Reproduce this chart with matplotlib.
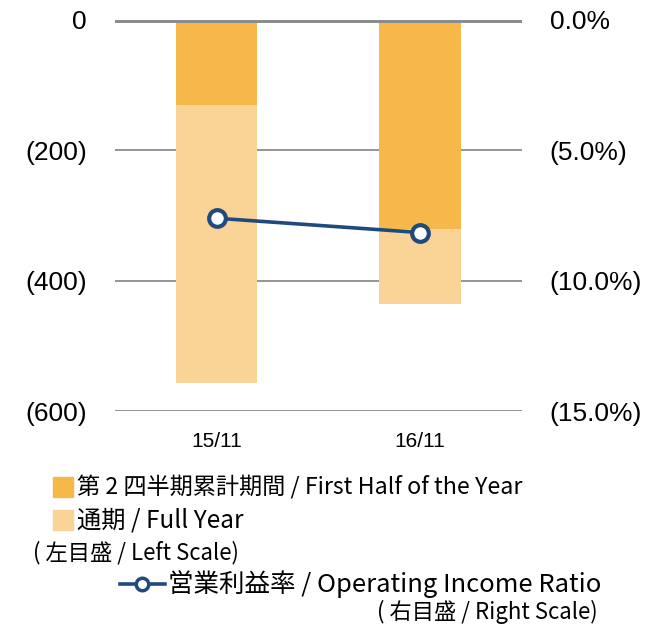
import matplotlib.pyplot as plt
from matplotlib.patches import Rectangle
from matplotlib.lines import Line2D
from matplotlib.ticker import FuncFormatter

# data (millions, negative = loss) and operating income ratio (%)
categories = ['15/11', '16/11']
first_half = [-130, -321]
full_year = [-557, -435]
income_ratio = [-7.6, -8.15]

orange = '#F7B84B'
light_orange = '#F9D496'
navy = '#1F4A7E'
grey = '#8C8C8C'

num_font = ['Liberation Sans', 'DejaVu Sans']
jp_font = ['Noto Sans CJK JP', 'DejaVu Sans']

fig = plt.figure(figsize=(6.45, 6.24), dpi=100)
ax = fig.add_axes([0.178, 0.341, 0.631, 0.627])

x = list(range(len(categories)))
# full year drawn behind, first half on top (both hang down from 0)
ax.bar(x, full_year, width=0.4, color=light_orange, zorder=2)
ax.bar(x, first_half, width=0.4, color=orange, zorder=3)

ax.set_xlim(-0.5, 1.5)
ax.set_ylim(-600, 0)
ax.set_yticks([0, -200, -400, -600])
ax.yaxis.set_major_formatter(FuncFormatter(lambda v, p: '0' if v == 0 else f'({abs(v):.0f})'))
ax.grid(axis='y', color=grey, linewidth=1.3, zorder=1)
ax.axhline(0, color=grey, linewidth=3.6, zorder=4)
for s in ax.spines.values():
    s.set_visible(False)
ax.tick_params(axis='y', length=0, pad=20, labelsize=19)
ax.tick_params(axis='x', length=0, pad=15, labelsize=15)
ax.set_xticks(x)
ax.set_xticklabels(categories)
for lab in ax.get_yticklabels() + ax.get_xticklabels():
    lab.set_family(num_font)

ax2 = ax.twinx()
ax2.set_ylim(-15, 0)
ax2.set_yticks([0, -5, -10, -15])
ax2.yaxis.set_major_formatter(FuncFormatter(lambda v, p: '0.0%' if v == 0 else f'({abs(v):.1f}%)'))
ax2.tick_params(axis='y', length=0, pad=20, labelsize=19)
for lab in ax2.get_yticklabels():
    lab.set_family(num_font)
for s in ax2.spines.values():
    s.set_visible(False)
ax2.plot(x, income_ratio, color=navy, linewidth=2.6, marker='o', markersize=12,
         markerfacecolor='white', markeredgecolor=navy, markeredgewidth=3, zorder=5)

# legend block (figure coordinates)
W, H = 645, 624

def fx(px):
    return px / W

def fy(py):
    return 1 - py / H

fig.patches.append(Rectangle((fx(53), fy(497)), fx(20) , 20 / H, color=orange, transform=fig.transFigure))
fig.patches.append(Rectangle((fx(53), fy(530)), fx(20), 20 / H, color=light_orange, transform=fig.transFigure))
fig.text(fx(77), fy(487), '第 2 四半期累計期間 / First Half of the Year', family=jp_font,
         fontsize=16.7, va='center', ha='left')
fig.text(fx(77), fy(520), '通期 / Full Year', family=jp_font, fontsize=17.5, va='center', ha='left')
fig.text(fx(33), fy(553), '( 左目盛 / Left Scale)', family=jp_font, fontsize=16, va='center', ha='left')

fig.lines.append(Line2D([fx(120), fx(165)], [fy(584), fy(584)], transform=fig.transFigure,
                        color=navy, linewidth=2.6, zorder=5))
fig.lines.append(Line2D([fx(142)], [fy(584)], transform=fig.transFigure, marker='o', markersize=9,
                        markerfacecolor='white', markeredgecolor=navy, markeredgewidth=2.5, zorder=6))
fig.text(fx(168), fy(584), '営業利益率 / Operating Income Ratio', family=jp_font, fontsize=18.4,
         va='center', ha='left')
fig.text(fx(598), fy(612), '( 右目盛 / Right Scale)', family=jp_font, fontsize=16, va='center', ha='right')

fig.savefig('out.png', dpi=100)
